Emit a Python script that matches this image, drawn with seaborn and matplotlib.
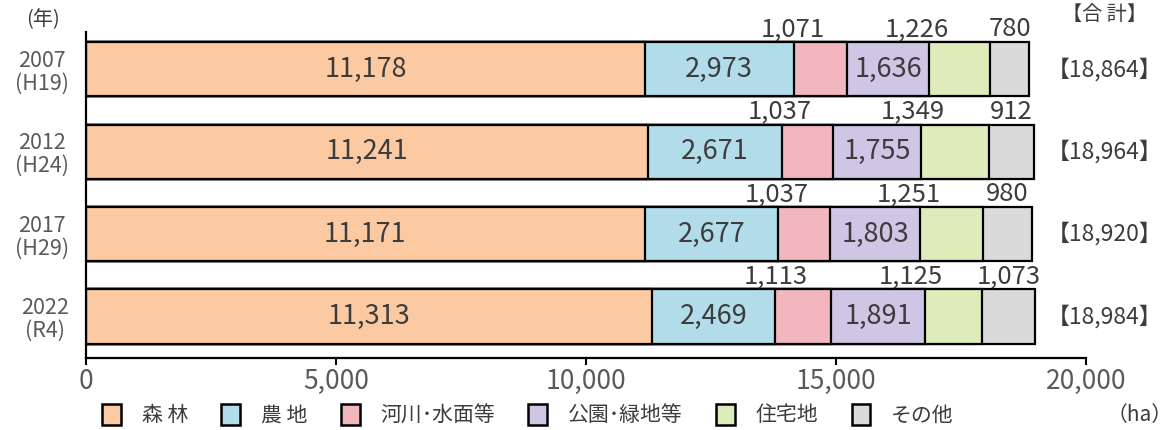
"""
Land use area by category (ha), stacked horizontal bars
Outputs out.png
"""

import matplotlib.pyplot as plt
import numpy as np
import pandas as pd
import seaborn as sns
from matplotlib.patches import Patch

sns.set_theme(style='white')
plt.rcParams['font.family'] = ['Noto Sans CJK JP', 'DejaVu Sans']

years = ['2007\n(H19)', '2012\n(H24)', '2017\n(H29)', '2022\n(R4)']
categories = ['森 林', '農 地', '河川･水面等', '公園･緑地等', '住宅地', 'その他']
forest = [11178, 11241, 11171, 11313]
farm = [2973, 2671, 2677, 2469]
river = [1071, 1037, 1037, 1113]
park = [1636, 1755, 1803, 1891]
residential = [1226, 1349, 1251, 1125]
other = [780, 912, 980, 1073]
totals = [18864, 18964, 18920, 18984]

colors = ['#fccaa2', '#b2dcea', '#f2b7be', '#cfc5e4', '#deebbb', '#dadada']
TXT = '#3c3c3c'
GRAY = '#5a5a5a'
BAR_H = 0.656


def main():
    fig = plt.figure(figsize=(11.71, 4.30), dpi=100)
    ax = fig.add_axes([86 / 1171, 72 / 430, 1000 / 1171, 326 / 430])

    values = np.array([forest, farm, river, park, residential, other])
    cum = values.cumsum(axis=0)
    df = pd.DataFrame({'year': years})

    # draw longest cumulative first so each shorter one sits on top
    for k in range(len(categories) - 1, -1, -1):
        df['cum'] = cum[k]
        sns.barplot(data=df, x='cum', y='year', order=years, orient='h',
                    color=colors[k], saturation=1, width=BAR_H,
                    edgecolor='black', linewidth=1.6, ax=ax)

    starts = cum - values
    mids = starts + values / 2
    for i in range(len(years)):
        # values written inside the bar
        for k in (0, 1, 3):
            ax.text(mids[k, i], i, f'{values[k, i]:,}', ha='center',
                    va='center', fontsize=19.5, color=TXT)
        # values written above the bar
        top = i - BAR_H / 2 - 0.075
        for k, shift in ((2, -550), (4, -850), (5, 0)):
            ax.text(mids[k, i] + shift, top, f'{values[k, i]:,}',
                    ha='center', va='baseline', fontsize=18.5, color=TXT)
        ax.text(20380, i, f'【{totals[i]:,}】', ha='center', va='center',
                fontsize=16.5, color=TXT, clip_on=False)

    ax.set_xlim(0, 20000)
    ax.set_ylim(3.504, -0.455)
    ax.set_xticks([0, 5000, 10000, 15000, 20000])
    ax.set_xticklabels(['0', '5,000', '10,000', '15,000', '20,000'])
    ax.set_yticks(range(len(years)))
    ax.set_yticklabels(years, multialignment='center', linespacing=1.05)
    ax.tick_params(axis='x', length=5, width=1.5, color='black',
                   labelsize=19, labelcolor=GRAY, pad=2, bottom=True)
    ax.tick_params(axis='y', length=0, labelsize=15.5, labelcolor=GRAY,
                   pad=12)
    ax.set_xlabel('')
    ax.set_ylabel('')
    for side in ('top', 'right'):
        ax.spines[side].set_visible(False)
    for side in ('left', 'bottom'):
        ax.spines[side].set_color('black')
        ax.spines[side].set_linewidth(1.6)

    fig.text(43 / 1171, 1 - 20 / 430, '(年)', ha='center', va='center',
             fontsize=14.5, color=TXT)
    fig.text(1104 / 1171, 1 - 14 / 430, '【合 計】', ha='center',
             va='center', fontsize=14.5, color=TXT)
    fig.text(1140 / 1171, 1 - 415 / 430, '（ha）', ha='center',
             va='center', fontsize=15, color=TXT)

    handles = [Patch(facecolor=c, edgecolor='black', linewidth=1.8)
               for c in colors]
    fig.legend(handles, categories, ncol=6, loc='center',
               bbox_to_anchor=(528 / 1171, 1 - 415 / 430), frameon=False,
               fontsize=15, handlelength=0.9, handleheight=1.2,
               handletextpad=1.0, columnspacing=1.6, labelcolor=TXT,
               borderpad=0)

    fig.savefig('out.png', dpi=100)


if __name__ == '__main__':
    main()
